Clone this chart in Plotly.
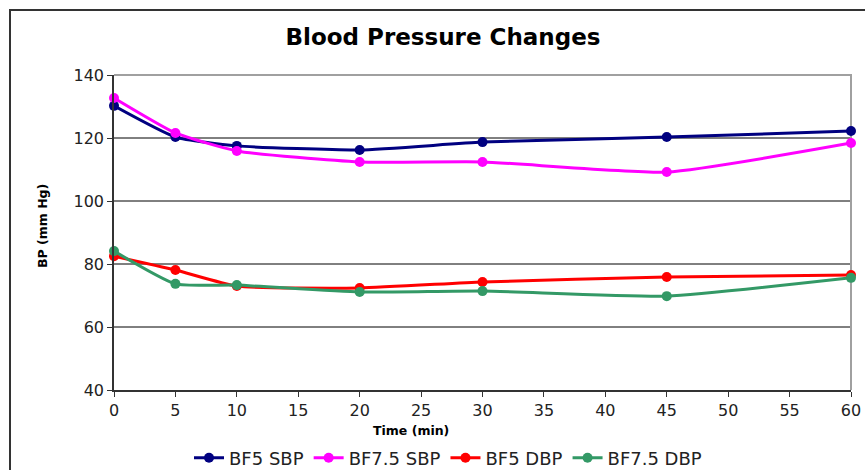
import plotly.graph_objects as go

time_min = [0, 5, 10, 20, 30, 45, 60]
bf5_sbp = [130.2, 120.3, 117.5, 116.2, 118.7, 120.3, 122.2]
bf75_sbp = [132.7, 121.6, 115.9, 112.4, 112.4, 109.2, 118.4]
bf5_dbp = [82.5, 78.1, 73.0, 72.4, 74.3, 75.9, 76.5]
bf75_dbp = [84.1, 73.7, 73.3, 71.1, 71.4, 69.8, 75.6]

series_names = ["BF5 SBP", "BF7.5 SBP", "BF5 DBP", "BF7.5 DBP"]
series_vals = [bf5_sbp, bf75_sbp, bf5_dbp, bf75_dbp]
series_colors = ["#000080", "#FF00FF", "#FF0000", "#339966"]

x_ticks = list(range(0, 61, 5))
y_ticks = [40, 60, 80, 100, 120, 140]
grid_vals = [60, 80, 100, 120]

W, H = 865, 470
L, R, T, B = 114, 14, 75, 80
pw, ph = W - L - R, H - T - B


def px_x(p):  # screen px -> paper
    return (p - L) / pw


def px_y(p):
    return (H - B - p) / ph


fig = go.Figure()
for name, vals, col in zip(series_names, series_vals, series_colors):
    fig.add_trace(go.Scatter(
        x=time_min, y=vals, name=name, mode="lines+markers",
        line=dict(color=col, width=3, shape="spline", smoothing=0.5),
        marker=dict(color=col, size=10, symbol="circle"),
        cliponaxis=False,
    ))

fnt = "DejaVu Sans, sans-serif"

fig.update_layout(
    width=W, height=H,
    margin=dict(l=L, r=R, t=T, b=B, autoexpand=False),
    paper_bgcolor="white", plot_bgcolor="white",
    font=dict(family=fnt, color="#222"),
    title=dict(text="<b>Blood Pressure Changes</b>", x=443 / W, xanchor="center",
               y=1 - 37 / H, yanchor="middle",
               font=dict(size=23, color="black", family=fnt)),
    showlegend=True,
    legend=dict(orientation="h", x=px_x(189), xanchor="left", y=px_y(458), yanchor="middle",
                font=dict(size=18, color="#222", family=fnt),
                itemwidth=30, tracegroupgap=0, bgcolor="rgba(0,0,0,0)"),
    xaxis=dict(range=[0, 60], tickmode="array", tickvals=x_ticks,
               showgrid=False, zeroline=False,
               showline=True, linecolor="#333", linewidth=1.5,
               ticks="outside", ticklen=5, tickcolor="#333",
               tickfont=dict(size=16, color="#222")),
    yaxis=dict(range=[40, 140], tickmode="array", tickvals=y_ticks,
               showgrid=False, zeroline=False,
               showline=True, linecolor="#333", linewidth=1.5,
               ticks="outside", ticklen=5, tickcolor="#333",
               tickfont=dict(size=16, color="#222")),
)

# horizontal gridlines
for gv in grid_vals:
    fig.add_shape(type="line", xref="paper", yref="y", x0=0, x1=1, y0=gv, y1=gv,
                  line=dict(color="black", width=1), layer="below")

# plot area border (top and right, grey)
fig.add_shape(type="path", xref="paper", yref="paper",
              path="M 0,1 L 1,1 L 1,0", line=dict(color="#a0a0a0", width=2), layer="below")
# chart area border (left and top)
fig.add_shape(type="path", xref="paper", yref="paper",
              path=f"M {px_x(10)},{px_y(480)} L {px_x(10)},{px_y(10)} L {px_x(880)},{px_y(10)}",
              line=dict(color="#333", width=2))

# axis titles
fig.add_annotation(text="<b>Time (min)</b>", xref="paper", yref="paper",
                   x=px_x(411), y=px_y(430), xanchor="center", yanchor="middle",
                   showarrow=False, font=dict(size=12.5, color="black", family=fnt))
fig.add_annotation(text="<b>BP (mm Hg)</b>", xref="paper", yref="paper",
                   x=px_x(42), y=px_y(226), xanchor="center", yanchor="middle", textangle=-90,
                   showarrow=False, font=dict(size=12.5, color="black", family=fnt))

fig.write_html("out.html", config={"displayModeBar": False},
               post_script="document.body.style.margin='0';document.body.style.overflow='hidden';")
